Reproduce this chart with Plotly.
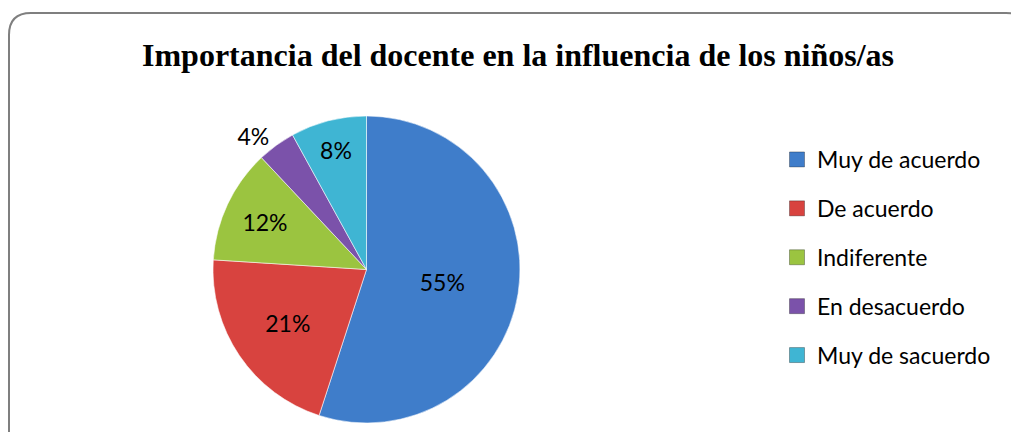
import plotly.graph_objects as go

categories = ["Muy de acuerdo", "De acuerdo", "Indiferente", "En desacuerdo", "Muy de sacuerdo"]
values = [55, 21, 12, 4, 8]
colors = ["#3f7dca", "#d8433f", "#9bc440", "#7b52aa", "#3fb5d3"]
title_text = "Importancia del docente en la influencia de los niños/as"

# page body has an 8px margin, so the figure is placed at (8, 8) in the window
OFF = 8
W, H = 1019 - OFF, 432 - OFF


def px(x):
    return (x - OFF) / W


def py(y):
    return 1 - (y - OFF) / H


fig = go.Figure()

fig.add_trace(go.Pie(
    labels=categories, values=values, sort=False, direction="clockwise", rotation=0,
    marker=dict(colors=colors, line=dict(color="rgba(255,255,255,0.55)", width=1)),
    textinfo="percent", texttemplate="%{percent:.0%}",
    textposition=["inside", "inside", "inside", "outside", "inside"],
    insidetextorientation="horizontal",
    textfont=dict(family="Lato", size=23, color="black"),
    outsidetextfont=dict(family="Lato", size=23, color="black"),
    showlegend=False, hoverinfo="label+percent",
    domain=dict(x=[px(213), px(520)], y=[py(423), py(116)]),
))

for i, (c, col) in enumerate(zip(categories, colors)):
    fig.add_trace(go.Scatter(
        x=[None], y=[None], mode="markers", name=c, legendgroup=str(i),
        marker=dict(symbol="square", size=15, color=col, line=dict(color="rgba(0,0,0,0.3)", width=1)),
    ))

# rounded border
x0, x1 = px(9), px(1028)
y1, y0 = py(13), -0.1
rx, ry = 22 / W, 22 / H
path = (f"M {x0+rx},{y1} L {x1-rx},{y1} Q {x1},{y1} {x1},{y1-ry} L {x1},{y0} "
        f"L {x0},{y0} L {x0},{y1-ry} Q {x0},{y1} {x0+rx},{y1} Z")
fig.add_shape(type="path", path=path, xref="paper", yref="paper",
              line=dict(color="#7f7f7f", width=2), fillcolor="rgba(0,0,0,0)", layer="below")

fig.update_layout(
    width=W, height=H, margin=dict(l=0, r=0, t=0, b=0),
    paper_bgcolor="white", plot_bgcolor="white",
    title=dict(text=f"<b>{title_text}</b>", x=px(518), xanchor="center", y=py(55), yanchor="middle",
               font=dict(family="Liberation Serif", size=32, color="black")),
    xaxis=dict(visible=False), yaxis=dict(visible=False),
    legend=dict(x=px(777), y=py(138), xanchor="left", yanchor="top",
                font=dict(family="Lato", size=23, color="black"), tracegroupgap=16,
                bgcolor="rgba(0,0,0,0)", itemwidth=30),
)

fig.write_html("out.html")
